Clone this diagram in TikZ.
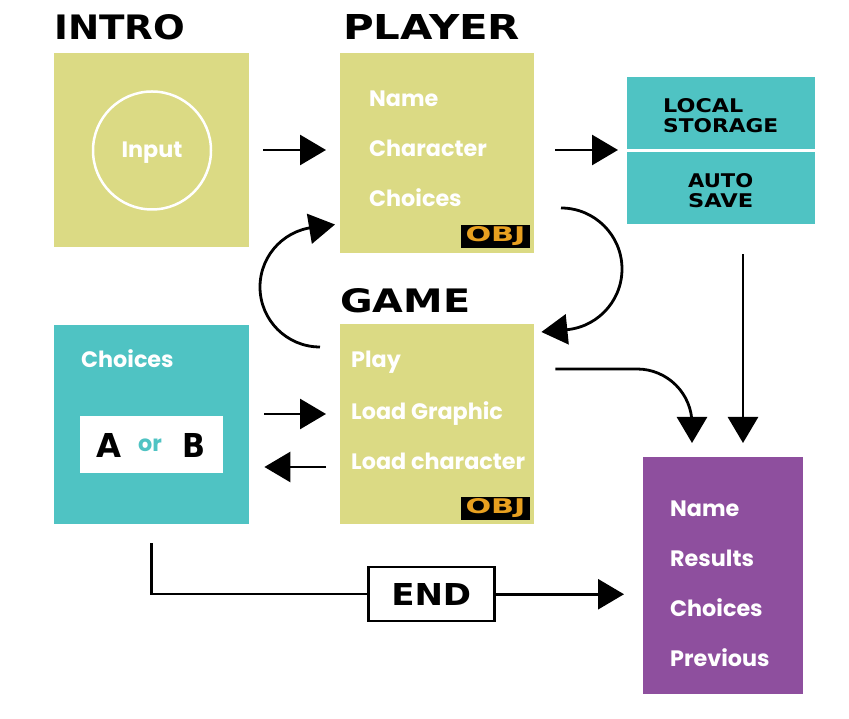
\documentclass[tikz,border=0pt]{standalone}
\usepackage{fontspec}
\setmainfont{Poppins}
\newfontfamily\pixfont{DejaVu Sans}
\usetikzlibrary{arrows.meta,calc}
\definecolor{ygreen}{HTML}{DBDA84}
\definecolor{tealbox}{HTML}{4FC3C3}
\definecolor{purpbox}{HTML}{8E4F9E}
\definecolor{objor}{HTML}{E8A020}
\newcommand\pix[3]{\resizebox{#1}{#2}{\pixfont\bfseries #3}}
\tikzset{
  panel/.style={draw=none, inner sep=0, anchor=north west},
  ybox/.style={panel, fill=ygreen},
  tbox/.style={panel, fill=tealbox},
  pbox/.style={panel, fill=purpbox},
  txt/.style={text=white, inner sep=0, anchor=base west, font=\fontsize{22.3}{26}\selectfont\bfseries},
  ptitle/.style={inner sep=0, anchor=south west},
  arr/.style={line width=2.8pt, -{Triangle[length=26pt,width=30pt]}},
  objbadge/.style={panel, fill=black, draw=black, line width=1pt, minimum width=68pt, minimum height=22pt},
}
\begin{document}
\begin{tikzpicture}[x=1pt,y=1pt]
\useasboundingbox (0,0) rectangle (849,719);
% titles
\node[ptitle] (tintro) at (54,679) {\pix{131pt}{25pt}{INTRO}};
\node[ptitle] (tplayer) at (343,679) {\pix{177pt}{25pt}{PLAYER}};
\node[ptitle] (tgame) at (340,406) {\pix{130pt}{24pt}{GAME}};
% boxes
\node[ybox, minimum width=195pt, minimum height=194pt] (intro) at (54,666) {};
\node[ybox, minimum width=194pt, minimum height=200pt] (player) at (340,666) {};
\node[tbox, minimum width=188pt, minimum height=72pt] (local) at (627,642) {};
\node[tbox, minimum width=188pt, minimum height=72pt] (auto) at (627,567) {};
\node[ybox, minimum width=194pt, minimum height=200pt] (game) at (340,395) {};
\node[tbox, minimum width=195pt, minimum height=199pt] (choices) at (54,394) {};
\node[pbox, minimum width=160pt, minimum height=237pt] (results) at (643,262) {};
\node[panel, fill=white, minimum width=143pt, minimum height=57pt] (ab) at (80,303) {};
% intro circle
\node[circle, draw=white, line width=2.5pt, minimum size=118pt, inner sep=0] (incircle) at (152,568.5) {};
\node[txt, anchor=base] (input) at (152,561) {Input};
% player text
\node[txt] (pname) at (369,612) {Name};
\node[txt] (pchar) at (369,562) {Character};
\node[txt] (pchoice) at (369,512) {Choices};
\node[objbadge] (obj1) at (461,494) {};
\node[inner sep=0] at (obj1.center) {\textcolor{objor}{\pix{60pt}{15pt}{OBJ}}};
% local storage
\node[inner sep=0, anchor=north west] (lsl) at (663,621) {\pix{80pt}{14pt}{LOCAL}};
\node[inner sep=0, anchor=north west] (lss) at (663,601) {\pix{115pt}{14pt}{STORAGE}};
\node[inner sep=0, anchor=north west] (asa) at (688,546) {\pix{65pt}{14pt}{AUTO}};
\node[inner sep=0, anchor=north west] (ass) at (688,526) {\pix{65pt}{14pt}{SAVE}};
% game text
\node[txt] (gplay) at (351,351) {Play};
\node[txt] (gload) at (351,299) {Load Graphic};
\node[txt] (gchar) at (351,249) {Load character};
\node[objbadge] (obj2) at (461,222) {};
\node[inner sep=0] at (obj2.center) {\textcolor{objor}{\pix{60pt}{15pt}{OBJ}}};
% choices text
\node[txt] (cchoice) at (81,351) {Choices};
\node[inner sep=0, anchor=north west] (la) at (96,286) {\pix{25pt}{24pt}{A}};
\node[inner sep=0, anchor=north west] (lb) at (182,286) {\pix{23pt}{24pt}{B}};
\node[inner sep=0, anchor=base, text=tealbox, font=\fontsize{22.3}{26}\selectfont\bfseries] (lor) at (150,267) {or};
% results text
\node[txt] (rname) at (670,202) {Name};
\node[txt] (rres) at (670,152) {Results};
\node[txt] (rcho) at (670,102) {Choices};
\node[txt] (rprev) at (670,52) {Previous};
% END box
\node[panel, fill=white, draw=black, line width=2.5pt, minimum width=126pt, minimum height=54pt] (endbox) at (367,153) {};
\node[inner sep=0] at (endbox.center) {\pix{80pt}{22pt}{END}};
% straight arrows
\draw[arr] ([xshift=14pt]intro.east |- 0,569) -- ([xshift=-14pt]player.west |- 0,569);
\draw[arr] ([xshift=21pt]player.east |- 0,569) -- ([xshift=-9pt]local.west |- 0,569);
\draw[arr] ([yshift=-30pt]auto.south -| 743,0) -- ([yshift=14pt]results.north -| 743,0);
\draw[arr] ([xshift=15pt]choices.east |- 0,305) -- ([xshift=-14pt]game.west |- 0,305);
\draw[arr] ([xshift=-14pt]game.west |- 0,252) -- ([xshift=15pt]choices.east |- 0,252);
% curved arrows
\coordinate (lc1) at (320,372);
\draw[arr] (lc1) arc[start angle=270, end angle=90, radius=60] -- ([xshift=-5pt]player.west |- 0,494.5);
\coordinate (rc1) at (561,511);
\draw[arr] (rc1) arc[start angle=90, end angle=-90, radius=61] -- ([xshift=7pt]game.east |- 0,387);
\coordinate (gc1) at ([xshift=21pt]game.east |- 0,350);
\draw[arr] (gc1) -- (637,350) arc[start angle=90, end angle=0, radius=55] -- ([yshift=14pt]results.north -| 692,0);
% end path
\coordinate (ec1) at ([yshift=-19pt]choices.south);
\draw[line width=2.5pt] (ec1) |- (endbox.west);
\draw[arr] (endbox.east) -- ([xshift=-19pt]results.west |- endbox.east);
\end{tikzpicture}
\end{document}
